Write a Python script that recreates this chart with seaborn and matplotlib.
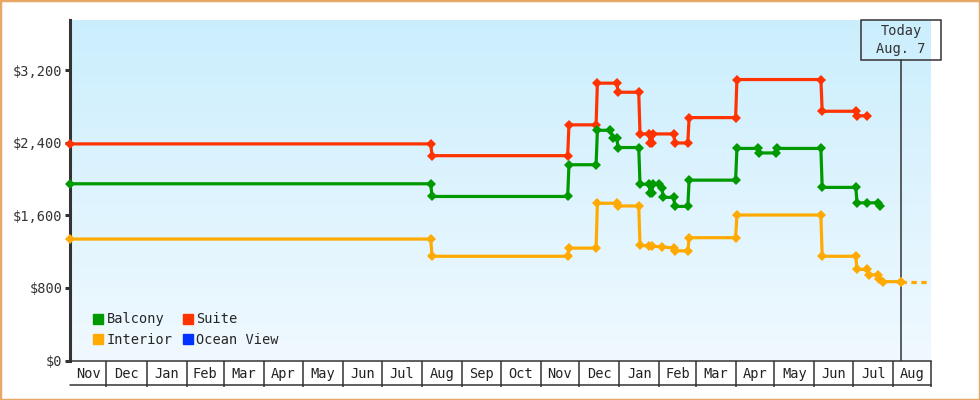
import numpy as np
import pandas as pd
import matplotlib
matplotlib.use('Agg')
import matplotlib.pyplot as plt
import matplotlib.dates as mdates
from matplotlib.colors import LinearSegmentedColormap
from matplotlib.lines import Line2D
from matplotlib.patches import Rectangle
from matplotlib.transforms import blended_transform_factory
import seaborn as sns

sns.set_style('white')
plt.rcParams['font.family'] = ['DejaVu Sans Mono']

# ---- data ----
x_start = '2023-11-03'
x_end = '2025-08-30'
today = '2025-08-07'
today_label = 'Today\nAug. 7'
month_labels = ['Nov', 'Dec', 'Jan', 'Feb', 'Mar', 'Apr', 'May', 'Jun', 'Jul', 'Aug', 'Sep',
                'Oct', 'Nov', 'Dec', 'Jan', 'Feb', 'Mar', 'Apr', 'May', 'Jun', 'Jul', 'Aug']
y_ticks = [0, 800, 1600, 2400, 3200]

suite_dates = ['2023-11-03', '2024-08-08', '2024-08-09', '2024-11-22', '2024-11-23', '2024-12-14',
               '2024-12-15', '2024-12-30', '2024-12-31', '2025-01-16', '2025-01-17', '2025-01-24',
               '2025-01-25', '2025-01-26', '2025-01-27', '2025-02-12', '2025-02-13', '2025-02-23',
               '2025-02-24', '2025-04-01', '2025-04-02', '2025-06-06', '2025-06-07', '2025-07-03',
               '2025-07-04', '2025-07-12']
suite_prices = [2390, 2390, 2260, 2260, 2600, 2600, 3060, 3060, 2960, 2960, 2500, 2500, 2400,
                2400, 2500, 2500, 2400, 2400, 2680, 2680, 3100, 3100, 2750, 2750, 2700, 2700]

balcony_dates = ['2023-11-03', '2024-08-08', '2024-08-09', '2024-11-22', '2024-11-23', '2024-12-14',
                 '2024-12-15', '2024-12-25', '2024-12-27', '2024-12-30', '2024-12-31', '2025-01-16',
                 '2025-01-17', '2025-01-24', '2025-01-25', '2025-01-26', '2025-01-27', '2025-02-01',
                 '2025-02-03', '2025-02-04', '2025-02-12', '2025-02-13', '2025-02-23', '2025-02-24',
                 '2025-04-01', '2025-04-02', '2025-04-18', '2025-04-19', '2025-05-02', '2025-05-03',
                 '2025-06-06', '2025-06-07', '2025-07-03', '2025-07-04', '2025-07-12', '2025-07-20',
                 '2025-07-22']
balcony_prices = [1950, 1950, 1810, 1810, 2160, 2160, 2540, 2540, 2450, 2450, 2350, 2350, 1945,
                  1945, 1845, 1845, 1945, 1945, 1900, 1800, 1800, 1700, 1700, 1990, 1990, 2340,
                  2340, 2290, 2290, 2340, 2340, 1910, 1910, 1740, 1740, 1740, 1705]

interior_dates = ['2023-11-03', '2024-08-08', '2024-08-09', '2024-11-22', '2024-11-23', '2024-12-14',
                  '2024-12-15', '2024-12-30', '2024-12-31', '2025-01-16', '2025-01-17', '2025-01-24',
                  '2025-01-26', '2025-02-03', '2025-02-12', '2025-02-13', '2025-02-23', '2025-02-24',
                  '2025-04-01', '2025-04-02', '2025-06-06', '2025-06-07', '2025-07-03', '2025-07-04',
                  '2025-07-12', '2025-07-13', '2025-07-20', '2025-07-21', '2025-07-24', '2025-08-07']
interior_prices = [1340, 1340, 1150, 1150, 1240, 1240, 1735, 1735, 1705, 1705, 1270, 1265, 1260,
                   1255, 1240, 1210, 1210, 1355, 1355, 1605, 1605, 1150, 1150, 1005, 1005, 945,
                   945, 900, 870, 870]

# projected interior price after today (dashed)
interior_proj_dates = ['2025-08-07', '2025-08-27']
interior_proj_prices = [870, 870]

cabins = ['Balcony', 'Interior', 'Suite', 'Ocean View']
colors = {'Balcony': '#009900', 'Suite': '#ff3300', 'Interior': '#ffaa00', 'Ocean View': '#0033ff'}

frames = []
for name, d, p in [('Suite', suite_dates, suite_prices),
                   ('Balcony', balcony_dates, balcony_prices),
                   ('Interior', interior_dates, interior_prices)]:
    frames.append(pd.DataFrame({'date': pd.to_datetime(d), 'price': p, 'cabin': name}))
df = pd.concat(frames, ignore_index=True)

# ---- figure ----
fig = plt.figure(figsize=(9.8, 4), dpi=100)
rect = [70.3 / 980, 39.5 / 400, 860.4 / 980, 340.5 / 400]

# gradient background on its own axes
bg_ax = fig.add_axes(rect, zorder=0)
bg_cmap = LinearSegmentedColormap.from_list('bg', ['#f0f9ff', '#cbeefd'])
bg_ax.imshow(np.linspace(0, 1, 256).reshape(-1, 1), cmap=bg_cmap, aspect='auto',
             origin='lower', extent=(0, 1, 0, 1))
bg_ax.axis('off')

ax = fig.add_axes(rect, zorder=1)
ax.patch.set_alpha(0)

sns.lineplot(data=df, x='date', y='price', hue='cabin',
             palette={k: colors[k] for k in ['Suite', 'Balcony', 'Interior']},
             estimator=None, sort=False, marker='D', markersize=4.7, markeredgewidth=0,
             linewidth=2.3, legend=False, ax=ax)

ax.plot(pd.to_datetime(interior_proj_dates), interior_proj_prices, color=colors['Interior'],
        lw=2.3, dashes=(1.7, 1.4), marker='D', markersize=4.7, markeredgewidth=0,
        markevery=[0])
for ln in ax.lines:
    ln.set_clip_on(False)
    ln.set_zorder(3)

ax.set_xlim(pd.Timestamp(x_start), pd.Timestamp(x_end))
ax.set_ylim(0, 3757)

# month cells below the axis
month_starts = list(pd.date_range('2023-12-01', '2025-08-01', freq='MS'))
edges = [pd.Timestamp(x_start)] + month_starts + [pd.Timestamp(x_end)]
centers = [edges[i] + (edges[i + 1] - edges[i]) / 2 for i in range(len(edges) - 1)]
ax.set_xticks(mdates.date2num(centers))
ax.set_xticklabels(month_labels)
ax.set_xticks(mdates.date2num(month_starts + [pd.Timestamp(x_end)]), minor=True)
ax.tick_params(axis='x', which='major', bottom=True, length=0, pad=5, labelsize=9.8,
               labelcolor='#222222')
ax.tick_params(axis='x', which='minor', bottom=True, length=18.5, width=1.1, color='#333333',
               direction='out')
fig.add_artist(Line2D([70.3 / 980, 930.7 / 980], [15 / 400, 15 / 400], color='#333333', lw=1.1))

ax.set_yticks(y_ticks)
ax.set_yticklabels([f'${v:,}' for v in y_ticks])
ax.tick_params(axis='y', left=True, length=3.6, width=2.2, color='#333333', pad=2,
               labelsize=9.8, labelcolor='#333333')

ax.set_xlabel('')
ax.set_ylabel('')
for side in ['top', 'right']:
    ax.spines[side].set_visible(False)
ax.spines['left'].set_linewidth(2.2)
ax.spines['left'].set_color('#333333')
ax.spines['bottom'].set_linewidth(1.1)
ax.spines['bottom'].set_color('#333333')

# today marker and label box
today_num = mdates.date2num(pd.Timestamp(today))
box_bottom = 1 - 40 / 340.5
ax.axvline(pd.Timestamp(today), ymin=0, ymax=box_bottom, color='#333333', lw=1.1, zorder=2)
trans = blended_transform_factory(ax.transData, ax.transAxes)
ax.add_patch(Rectangle((today_num - 31, box_bottom), 62, 1 - box_bottom, transform=trans,
                       fill=False, edgecolor='#333333', lw=1.1, clip_on=False))
ax.text(today_num, (1 + box_bottom) / 2, today_label, transform=trans, ha='center',
        va='center', fontsize=9.8, color='#333333', linespacing=1.35)

# legend
handles = [Line2D([], [], marker='s', color=colors[c], linestyle='', markersize=7.5)
           for c in cabins]
ax.legend(handles, cabins, ncol=2, loc='lower left', bbox_to_anchor=(0.02, 0.025),
          frameon=False, fontsize=9.8, handlelength=0.8, handletextpad=0.2,
          columnspacing=0.7, labelspacing=0.45, borderaxespad=0)

# orange frame around the whole image
fig.add_artist(Rectangle((0, 0), 1, 1, transform=fig.transFigure, fill=False,
                         edgecolor='#e8a865', lw=2.5))

fig.savefig('out.png', dpi=100)
